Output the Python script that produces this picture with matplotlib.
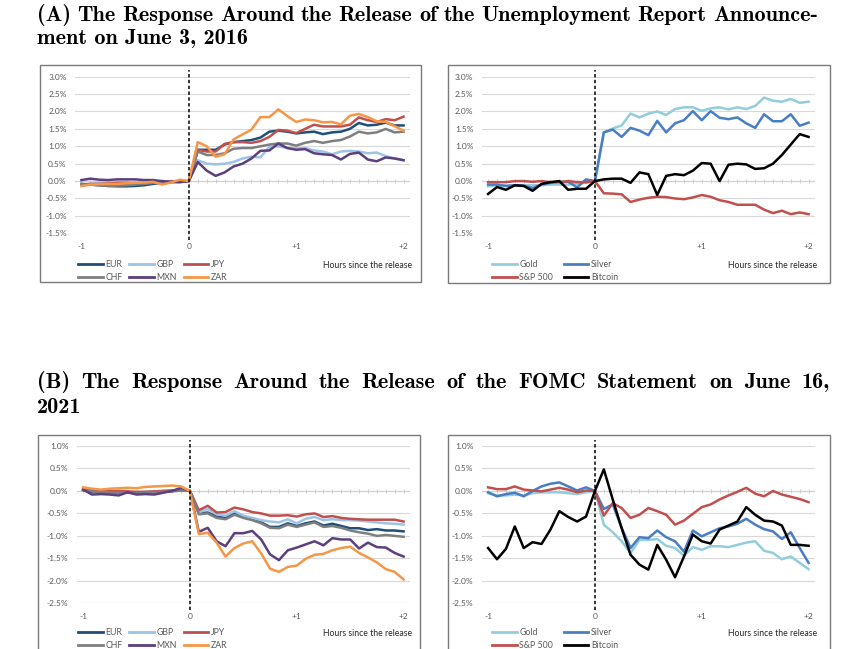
import matplotlib
matplotlib.use("Agg")
import matplotlib.pyplot as plt
import numpy as np
from matplotlib.patches import Rectangle

# 5-minute steps from one hour before to two hours after the release
minutes = np.arange(-60, 121, 5)
hours = minutes / 60.0

# Panel A: unemployment report, June 3, 2016 (returns in %)
a_eur = [-0.08, -0.10, -0.12, -0.14, -0.15, -0.15, -0.14, -0.12, -0.08, -0.05, -0.02, -0.02, 0.0,
         0.90, 0.90, 0.90, 1.05, 1.12, 1.15, 1.18, 1.25, 1.42, 1.45, 1.42, 1.37,
         1.40, 1.42, 1.35, 1.40, 1.42, 1.50, 1.67, 1.60, 1.62, 1.68, 1.60, 1.60]
a_gbp = [-0.10, -0.08, -0.06, -0.05, -0.05, -0.05, -0.05, -0.05, -0.02, 0.0, -0.03, -0.03, 0.0,
         0.60, 0.50, 0.48, 0.50, 0.55, 0.65, 0.70, 0.68, 0.98, 1.00, 0.95, 0.95,
         0.95, 0.88, 0.85, 0.77, 0.85, 0.87, 0.85, 0.80, 0.82, 0.72, 0.65, 0.60]
a_jpy = [-0.10, -0.08, -0.08, -0.07, -0.05, -0.05, -0.07, -0.06, -0.04, -0.02, -0.02, -0.01, 0.0,
         0.90, 0.85, 0.85, 1.07, 1.12, 1.12, 1.10, 1.15, 1.27, 1.47, 1.45, 1.38,
         1.50, 1.62, 1.57, 1.57, 1.57, 1.62, 1.83, 1.75, 1.70, 1.78, 1.75, 1.85]
a_chf = [-0.12, -0.10, -0.12, -0.14, -0.13, -0.12, -0.10, -0.08, -0.05, -0.05, -0.03, -0.02, 0.0,
         0.85, 0.75, 0.75, 0.80, 0.93, 0.95, 0.95, 1.00, 1.05, 1.08, 1.08, 1.02,
         1.10, 1.15, 1.10, 1.15, 1.18, 1.28, 1.42, 1.37, 1.40, 1.50, 1.40, 1.42]
a_mxn = [0.03, 0.07, 0.04, 0.03, 0.05, 0.05, 0.05, 0.03, 0.03, 0.00, -0.02, -0.03, 0.0,
         0.55, 0.30, 0.15, 0.25, 0.42, 0.50, 0.65, 0.87, 0.88, 1.08, 0.95, 0.90,
         0.92, 0.80, 0.77, 0.75, 0.62, 0.78, 0.82, 0.62, 0.57, 0.68, 0.65, 0.60]
a_zar = [-0.14, -0.10, -0.09, -0.08, -0.08, -0.06, -0.05, -0.04, -0.02, -0.10, -0.04, 0.04, 0.0,
         1.12, 1.00, 0.70, 0.77, 1.20, 1.34, 1.48, 1.84, 1.84, 2.06, 1.87, 1.70,
         1.77, 1.75, 1.69, 1.70, 1.63, 1.88, 1.93, 1.84, 1.72, 1.70, 1.58, 1.45]
a_gold = [-0.15, -0.12, -0.13, -0.12, -0.12, -0.12, -0.12, -0.10, -0.10, -0.10, -0.08, -0.05, 0.0,
          1.40, 1.51, 1.60, 1.94, 1.83, 1.94, 2.00, 1.90, 2.07, 2.12, 2.12, 2.02,
          2.09, 2.12, 2.06, 2.12, 2.07, 2.16, 2.40, 2.31, 2.28, 2.36, 2.25, 2.28]
a_silver = [-0.10, -0.10, -0.14, -0.12, -0.13, -0.20, -0.10, -0.05, -0.02, -0.02, -0.18, 0.05, 0.0,
            1.40, 1.48, 1.27, 1.53, 1.45, 1.32, 1.73, 1.40, 1.66, 1.75, 2.01, 1.75,
            2.01, 1.82, 1.78, 1.83, 1.66, 1.53, 1.92, 1.72, 1.72, 1.92, 1.59, 1.68]
a_sp500 = [-0.03, -0.03, -0.03, 0.0, 0.0, -0.02, 0.0, -0.03, -0.03, 0.0, -0.03, -0.03, 0.0,
           -0.35, -0.36, -0.38, -0.60, -0.53, -0.48, -0.45, -0.46, -0.50, -0.52, -0.47, -0.40,
           -0.45, -0.55, -0.60, -0.68, -0.68, -0.68, -0.82, -0.92, -0.85, -0.95, -0.90, -0.95]
a_btc = [-0.37, -0.17, -0.25, -0.12, -0.14, -0.28, -0.08, -0.03, 0.0, -0.25, -0.22, -0.22, 0.0,
         0.05, 0.07, 0.07, -0.05, 0.25, 0.20, -0.40, 0.15, 0.20, 0.17, 0.30, 0.52,
         0.50, 0.00, 0.47, 0.50, 0.48, 0.35, 0.37, 0.50, 0.75, 1.05, 1.35, 1.27]

# Panel B: FOMC statement, June 16, 2021 (returns in %)
b_eur = [0.02, -0.02, -0.03, -0.03, -0.04, -0.03, -0.04, -0.03, -0.02, -0.01, 0.0, 0.02, 0.0,
         -0.50, -0.48, -0.57, -0.60, -0.50, -0.57, -0.62, -0.70, -0.80, -0.80, -0.72, -0.78,
         -0.72, -0.68, -0.77, -0.73, -0.78, -0.83, -0.83, -0.87, -0.85, -0.88, -0.88, -0.90]
b_gbp = [0.03, 0.0, -0.02, -0.02, -0.03, -0.02, -0.03, -0.02, -0.01, 0.0, 0.01, 0.02, 0.0,
         -0.48, -0.40, -0.52, -0.55, -0.45, -0.55, -0.60, -0.65, -0.68, -0.70, -0.63, -0.72,
         -0.62, -0.58, -0.65, -0.63, -0.65, -0.65, -0.66, -0.68, -0.70, -0.72, -0.73, -0.75]
b_jpy = [0.04, 0.02, 0.01, 0.0, 0.0, -0.01, -0.02, -0.02, -0.01, 0.0, 0.01, 0.02, 0.0,
         -0.43, -0.33, -0.48, -0.47, -0.37, -0.41, -0.47, -0.50, -0.55, -0.55, -0.54, -0.57,
         -0.52, -0.50, -0.58, -0.56, -0.60, -0.62, -0.63, -0.64, -0.64, -0.64, -0.64, -0.68]
b_chf = [0.02, -0.01, -0.02, -0.03, -0.03, -0.04, -0.05, -0.04, -0.03, -0.02, -0.01, 0.01, 0.0,
         -0.52, -0.50, -0.60, -0.63, -0.53, -0.60, -0.65, -0.72, -0.82, -0.83, -0.75, -0.80,
         -0.75, -0.70, -0.80, -0.78, -0.82, -0.88, -0.92, -0.95, -1.00, -0.98, -1.00, -1.02]
b_mxn = [0.03, -0.08, -0.07, -0.08, -0.10, -0.03, -0.08, -0.07, -0.08, -0.04, 0.00, 0.07, 0.0,
         -0.91, -0.82, -1.12, -1.23, -0.94, -0.94, -0.89, -1.08, -1.41, -1.54, -1.32, -1.26,
         -1.19, -1.12, -1.21, -1.05, -1.08, -1.08, -1.28, -1.15, -1.25, -1.26, -1.38, -1.46]
b_zar = [0.08, 0.05, 0.03, 0.05, 0.06, 0.07, 0.06, 0.09, 0.10, 0.11, 0.12, 0.10, 0.0,
         -0.96, -0.93, -1.15, -1.46, -1.27, -1.17, -1.12, -1.39, -1.73, -1.80, -1.69, -1.66,
         -1.51, -1.42, -1.40, -1.32, -1.27, -1.24, -1.38, -1.48, -1.59, -1.74, -1.80, -1.97]
b_gold = [-0.05, -0.10, -0.10, -0.08, -0.10, -0.05, -0.03, -0.03, -0.03, -0.05, -0.07, -0.03, 0.0,
          -0.75, -0.92, -1.12, -1.38, -1.09, -1.09, -1.07, -1.22, -1.27, -1.44, -1.25, -1.31,
          -1.23, -1.23, -1.25, -1.20, -1.15, -1.12, -1.33, -1.38, -1.52, -1.46, -1.60, -1.74]
b_silver = [-0.03, -0.12, -0.07, -0.04, -0.12, 0.0, 0.10, 0.16, 0.19, 0.10, 0.01, 0.08, 0.0,
            -0.40, -0.30, -0.82, -1.27, -1.03, -1.05, -0.88, -1.03, -1.12, -1.35, -0.88, -1.01,
            -0.92, -0.83, -0.79, -0.73, -0.62, -0.75, -0.85, -0.90, -1.07, -0.92, -1.27, -1.60]
b_sp500 = [0.08, 0.04, 0.04, 0.10, 0.03, 0.01, -0.01, 0.03, 0.07, 0.03, -0.03, 0.01, 0.0,
           -0.55, -0.27, -0.38, -0.60, -0.53, -0.38, -0.45, -0.53, -0.75, -0.66, -0.51, -0.36,
           -0.30, -0.19, -0.10, -0.02, 0.07, -0.06, -0.12, 0.00, -0.08, -0.13, -0.18, -0.25]
b_btc = [-1.27, -1.52, -1.29, -0.79, -1.27, -1.14, -1.18, -0.86, -0.45, -0.58, -0.68, -0.57, 0.0,
         0.48, -0.19, -0.83, -1.42, -1.64, -1.75, -1.20, -1.53, -1.92, -1.46, -0.97, -1.12,
         -1.17, -0.86, -0.77, -0.68, -0.36, -0.53, -0.66, -0.68, -0.77, -1.20, -1.20, -1.22]

fx_names = ["EUR", "GBP", "JPY", "CHF", "MXN", "ZAR"]
fx_colors = ["#1f4e79", "#9dc3e6", "#c0504d", "#7f7f7f", "#5b3f7f", "#f79646"]
as_names = ["Gold", "Silver", "S&P 500", "Bitcoin"]
as_colors = ["#92cddc", "#4a7ec4", "#c0504d", "#000000"]

xticks = [-1, 0, 1, 2]
xticklabels = ["-1", "0", "+1", "+2"]

a_yticks = [-1.5, -1.0, -0.5, 0.0, 0.5, 1.0, 1.5, 2.0, 2.5, 3.0]
b_yticks = [-2.5, -2.0, -1.5, -1.0, -0.5, 0.0, 0.5, 1.0]

title_a = ["(A) The Response Around the Release of the Unemployment Report Announce-",
           "ment on June 3, 2016"]
title_b = ["(B) The Response Around the Release of the FOMC Statement on June 16,",
           "2021"]

W, H = 850, 649
fig = plt.figure(figsize=(W / 100, H / 100), dpi=100)
fig.patch.set_facecolor("white")

chart_font = "Lato"
title_font = "cmb10"
gray_txt = "#595959"


def rect(l, t, r, b):
    return [l / W, 1 - b / H, (r - l) / W, (b - t) / H]


def panel(box, area, series, names, colors, yticks, legend_xy, colspacing, hours_y):
    # outer frame like a pasted spreadsheet chart
    fig.patches.append(Rectangle((box[0] / W, 1 - box[3] / H), (box[2] - box[0]) / W,
                                 (box[3] - box[1]) / H, transform=fig.transFigure,
                                 fill=False, edgecolor="#7a7a7a", lw=1.0))
    ax = fig.add_axes(rect(*area))
    ax.set_xlim(-1.06, 2.06)
    ax.set_ylim(yticks[0], yticks[-1])
    for s in ax.spines.values():
        s.set_visible(False)
    ax.set_yticks(yticks)
    ax.set_yticklabels(["%.1f%%" % v for v in yticks], color=gray_txt,
                       fontsize=6, family=chart_font)
    ax.set_xticks(xticks)
    ax.set_xticklabels(xticklabels, color=gray_txt, fontsize=6, family=chart_font)
    ax.tick_params(length=0, pad=7)
    ax.tick_params(axis="y", pad=6)
    ax.grid(axis="y", color="#d9d9d9", lw=0.8)
    ax.set_axisbelow(True)
    ax.axhline(0, color="#d0d0d0", lw=0.8, zorder=1)
    ax.plot(hours, np.zeros_like(hours), ls="none", marker="|", ms=2.5,
            color="#c8c8c8", mew=0.6, zorder=1)
    handles = []
    for vals, name, c in zip(series, names, colors):
        ln, = ax.plot(hours, vals, color=c, lw=1.8, label=name, zorder=3)
        handles.append(ln)
    ax.axvline(0, ymin=-0.04, ymax=1.04, color="black", lw=1.1, ls=(0, (2.2, 1.6)),
               clip_on=False, zorder=4)
    ncol = (len(handles) + 1) // 2
    order = [i for c in range(ncol) for i in (c, c + ncol) if i < len(handles)]
    leg = ax.legend([handles[i] for i in order], [names[i] for i in order], ncol=ncol,
                    loc="upper left", bbox_to_anchor=(legend_xy[0] / W, 1 - legend_xy[1] / H),
                    bbox_transform=fig.transFigure, frameon=False,
                    prop={"family": chart_font, "size": 6.3}, handlelength=2.8,
                    handletextpad=0.3, columnspacing=colspacing, labelspacing=0.42,
                    borderpad=0, borderaxespad=0)
    for t in leg.get_texts():
        t.set_color(gray_txt)
    for l in leg.get_lines():
        l.set_linewidth(2.0)
    fig.text((area[2] + 2) / W, 1 - hours_y / H, "Hours since the release",
             ha="right", va="center", fontsize=6.2, family=chart_font, color="#262626")
    return ax


def justified(text, x0, x1, ybase, size):
    # spread the words of a full line between x0 and x1, like a typeset paragraph
    words = text.split()
    items = [fig.text(x0 / W, 1 - ybase / H, w, ha="left", va="baseline",
                      fontsize=size, family=title_font) for w in words]
    r = fig.canvas.get_renderer()
    widths = [t.get_window_extent(r).width for t in items]
    gap = (x1 - x0 - sum(widths)) / (len(words) - 1)
    x = x0
    for t, w in zip(items, widths):
        t.set_x(x / W)
        x += w + gap


a_fx = [a_eur, a_gbp, a_jpy, a_chf, a_mxn, a_zar]
a_as = [a_gold, a_silver, a_sp500, a_btc]
b_fx = [b_eur, b_gbp, b_jpy, b_chf, b_mxn, b_zar]
b_as = [b_gold, b_silver, b_sp500, b_btc]

panel((40, 65, 421, 282), (75, 76.7, 410, 233.3), a_fx, fx_names, fx_colors, a_yticks,
      (78, 260), 0.8, 265)
panel((448, 65, 830, 283), (481.7, 76.7, 815, 233.3), a_as, as_names, as_colors, a_yticks,
      (492, 260), 1.25, 265)
panel((38, 435, 420, 700), (76.7, 446, 410, 603.3), b_fx, fx_names, fx_colors, b_yticks,
      (78, 628), 0.8, 633)
panel((448, 435, 830, 700), (481.7, 446, 815, 603.3), b_as, as_names, as_colors, b_yticks,
      (492, 628), 1.25, 633)

tsize = 16
justified(title_a[0], 37, 818, 21, tsize)
fig.text(37 / W, 1 - 44 / H, title_a[1], ha="left", va="baseline",
         fontsize=tsize, family=title_font)
justified(title_b[0], 37, 830, 388, tsize)
fig.text(37 / W, 1 - 413 / H, title_b[1], ha="left", va="baseline",
         fontsize=tsize, family=title_font)

fig.savefig("out.png", dpi=100)
